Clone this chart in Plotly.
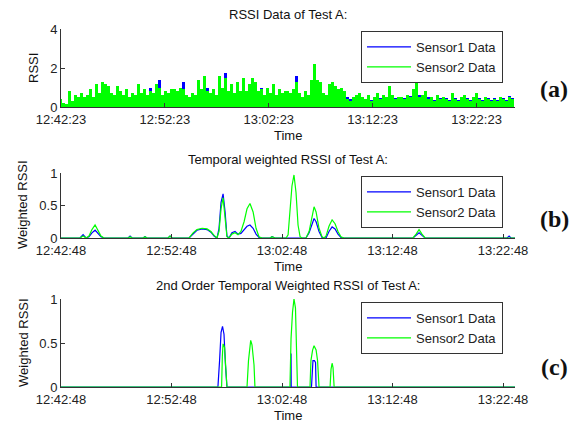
import plotly.graph_objects as go
import pandas as pd

DAY = "2013-01-01 "

# ---------------- Panel (a): raw RSSI ----------------
rssi_start = "12:42:23"
rssi_end = "13:26:05"
rssi_step_ms = 17250
rssi_ticks = ["12:42:23", "12:52:23", "13:02:23", "13:12:23", "13:22:23"]

sensor1_rssi = [
    0.4, 0.15, 0.1, 0.5, 0.2, 0.4, 0.4, 0.5, 0.4, 0.5, 0.7, 0.4, 0.9, 0.5, 1.0, 1.0, 0.9, 0.5, 0.5, 0.8,
    0.6, 0.5, 0.7, 0.4, 0.6, 0.5, 0.9, 0.5, 0.7, 0.5, 0.95, 0.6, 1.0, 1.4, 0.5, 0.7, 0.6, 0.7,
    0.7, 0.6, 0.8, 1.3, 0.5, 0.4, 0.6, 0.5, 1.1, 0.7, 1.2, 0.95, 0.6, 0.8, 0.5, 1.3, 0.8, 1.75, 0.7, 1.0,
    0.6, 1.0, 0.7, 1.2, 0.7, 1.0, 1.3, 1.1, 0.7, 0.95, 0.5, 0.8, 0.6, 1.0, 0.5, 0.7, 0.6, 0.7,
    0.6, 0.6, 0.8, 1.6, 0.6, 0.4, 0.7, 0.5, 1.1, 1.8, 1.1, 1.0, 0.6, 0.5, 1.0, 1.1, 0.9, 0.8, 0.8, 0.7,
    0.5, 0.4, 0.4, 0.5, 0.6, 0.4, 0.35, 0.5, 0.35, 0.4, 0.6, 0.45, 0.5, 0.4, 0.9, 0.5, 0.45, 0.4,
    0.4, 0.45, 0.5, 0.55, 0.7, 1.4, 0.6, 0.5, 0.7, 0.5, 0.4, 0.35, 0.5, 0.45, 0.4, 0.45, 0.35, 0.6, 0.45, 0.35,
    0.4, 0.5, 0.45, 0.35, 0.45, 0.6, 0.45, 0.35, 0.45, 0.45, 0.35, 0.45, 0.35, 0.45, 0.45, 0.35, 0.55, 0.45,
]
sensor2_rssi = [
    0.4, 0.2, 0.15, 0.8, 0.3, 0.6, 0.5, 0.7, 0.5, 0.6, 0.9, 0.5, 1.2, 0.7, 1.3, 1.2, 1.1, 0.7, 0.6, 1.1,
    0.8, 0.6, 0.9, 0.5, 0.7, 0.6, 1.2, 0.7, 0.9, 0.6, 0.8, 0.7, 1.2, 1.0, 0.6, 0.8, 0.7, 0.9,
    0.9, 0.8, 1.0, 0.9, 0.6, 0.5, 0.7, 0.6, 1.4, 0.9, 1.6, 0.8, 0.7, 0.9, 0.6, 1.6, 1.0, 1.5, 0.8, 1.2,
    0.7, 1.3, 0.8, 1.5, 0.8, 1.2, 1.5, 1.3, 0.8, 0.9, 0.6, 1.0, 0.7, 1.2, 0.6, 0.9, 0.7, 0.8,
    0.8, 0.7, 0.9, 1.3, 0.7, 0.5, 0.8, 0.6, 1.4, 2.2, 1.4, 1.3, 0.7, 0.6, 1.2, 1.3, 1.1, 0.9, 1.0, 0.8,
    0.4, 0.3, 0.5, 0.6, 0.7, 0.5, 0.4, 0.6, 0.3, 0.5, 0.7, 0.4, 0.6, 0.5, 1.1, 0.6, 0.4, 0.5,
    0.5, 0.4, 0.6, 0.5, 0.9, 1.7, 0.5, 0.6, 0.8, 0.4, 0.5, 0.3, 0.6, 0.4, 0.5, 0.4, 0.3, 0.7, 0.4, 0.3,
    0.5, 0.6, 0.4, 0.3, 0.5, 0.7, 0.4, 0.3, 0.5, 0.4, 0.3, 0.4, 0.3, 0.5, 0.4, 0.3, 0.5, 0.4,
]

# ---------------- Panel (b): temporal weighted RSSI ----------------
wt_start = "12:42:48"
wt_end = "13:23:53"
wt_ticks = ["12:42:48", "12:52:48", "13:02:48", "13:12:48", "13:22:48"]

tw_times = [
    "12:42:48", "12:44:31", "12:44:48", "12:45:04", "12:45:20", "12:45:36", "12:45:53", "12:46:09",
    "12:46:25", "12:46:42", "12:48:52", "12:49:03", "12:49:14", "12:50:13", "12:50:24", "12:50:35",
    "12:52:29", "12:52:40", "12:52:51", "12:54:23", "12:54:45", "12:55:06", "12:55:34", "12:56:01",
    "12:56:22", "12:56:39", "12:56:55", "12:57:06", "12:57:17", "12:57:28", "12:57:39", "12:57:49",
    "12:58:00", "12:58:16", "12:58:33", "12:58:49", "12:59:05", "12:59:22", "12:59:38", "12:59:54",
    "13:00:11", "13:00:27", "13:00:43", "13:00:59", "13:01:43", "13:01:54", "13:02:10", "13:03:10",
    "13:03:21", "13:03:31", "13:03:42", "13:03:53", "13:04:04", "13:04:15", "13:04:26", "13:04:37",
    "13:04:58", "13:05:15", "13:05:31", "13:05:42", "13:05:53", "13:06:09", "13:06:25", "13:06:36",
    "13:06:47", "13:07:03", "13:07:20", "13:07:36", "13:07:52", "13:08:08", "13:08:25", "13:14:39",
    "13:14:56", "13:15:12", "13:15:28", "13:15:45", "13:23:10", "13:23:21", "13:23:31", "13:23:53",
]
tw_sensor1 = [
    0, 0, 0.05, 0, 0.02, 0.08, 0.12, 0.07,
    0.02, 0, 0, 0.03, 0, 0, 0.02, 0,
    0, 0.03, 0, 0, 0.07, 0.12, 0.14, 0.13,
    0.09, 0.03, 0, 0.15, 0.55, 0.68, 0.4, 0.03,
    0, 0.08, 0.1, 0.06, 0.07, 0.13, 0.18, 0.2,
    0.15, 0.06, 0.01, 0, 0, 0.02, 0, 0,
    0, 0, 0.01, 0, 0, 0, 0, 0,
    0, 0.08, 0.22, 0.3, 0.25, 0.1, 0.01, 0,
    0, 0.1, 0.17, 0.14, 0.06, 0.01, 0, 0,
    0.04, 0.08, 0.04, 0, 0, 0.03, 0, 0,
]
tw_sensor2 = [
    0, 0, 0.03, 0, 0.03, 0.13, 0.2, 0.12,
    0.03, 0, 0, 0.02, 0, 0, 0.02, 0,
    0, 0.03, 0, 0, 0.08, 0.13, 0.15, 0.14,
    0.1, 0.04, 0, 0.1, 0.45, 0.62, 0.35, 0.02,
    0, 0.06, 0.08, 0.05, 0.1, 0.25, 0.45, 0.53,
    0.4, 0.15, 0.02, 0, 0, 0.02, 0, 0,
    0.05, 0.35, 0.8, 0.97, 0.7, 0.2, 0.02, 0,
    0, 0.1, 0.35, 0.48, 0.4, 0.15, 0.02, 0,
    0.03, 0.18, 0.28, 0.22, 0.1, 0.02, 0, 0,
    0.06, 0.13, 0.06, 0, 0, 0, 0, 0,
]

# ---------------- Panel (c): 2nd order temporal weighted RSSI ----------------
so_times_s1 = [
    "12:42:48", "12:57:00", "12:57:09", "12:57:17", "12:57:25", "12:57:33", "12:57:41", "12:57:49",
    "13:03:36", "13:03:37", "13:03:38", "13:05:28", "13:05:31", "13:05:36", "13:05:44", "13:05:50",
    "13:05:53", "13:23:53",
]
so_sensor1 = [0, 0, 0.3, 0.62, 0.69, 0.6, 0.25, 0, 0, 0.38, 0, 0, 0.2, 0.3, 0.3, 0.28, 0, 0]
so_times_s2 = [
    "12:42:48", "12:57:20", "12:57:24", "12:57:28", "12:57:36", "12:57:44", "12:57:49",
    "12:59:38", "12:59:46", "12:59:58", "13:00:05", "13:00:16", "13:00:21",
    "13:03:31", "13:03:37", "13:03:45", "13:03:53", "13:04:01", "13:04:07", "13:04:12",
    "13:05:20", "13:05:25", "13:05:34", "13:05:42", "13:05:53", "13:06:01", "13:06:09",
    "13:07:09", "13:07:14", "13:07:20", "13:07:25", "13:07:31", "13:23:53",
]
so_sensor2 = [
    0, 0, 0.35, 0.49, 0.45, 0.1, 0,
    0, 0.3, 0.53, 0.48, 0.25, 0,
    0, 0.55, 0.85, 1.0, 0.9, 0.4, 0,
    0, 0.3, 0.42, 0.47, 0.42, 0.3, 0,
    0, 0.2, 0.27, 0.22, 0, 0,
]

BLUE = "#0000FF"
GREEN = "#00FF00"
AXC = "#333333"
FONT = "Liberation Sans, Arial, sans-serif"


def d(t):
    return DAY + t


rssi_x = pd.date_range(d(rssi_start), periods=len(sensor2_rssi), freq=f"{rssi_step_ms}ms")

fig = go.Figure()

# Panel (a)
fig.add_trace(go.Bar(x=rssi_x, y=sensor1_rssi, marker_color=BLUE, marker_line_width=0,
                     width=rssi_step_ms, showlegend=False, xaxis="x", yaxis="y"))
fig.add_trace(go.Bar(x=rssi_x, y=sensor2_rssi, marker_color=GREEN, marker_line_width=0,
                     width=rssi_step_ms, showlegend=False, xaxis="x", yaxis="y"))
fig.add_trace(go.Scatter(x=[None], y=[None], mode="lines", line=dict(color=BLUE, width=1.2),
                         name="Sensor1 Data", legend="legend", xaxis="x", yaxis="y"))
fig.add_trace(go.Scatter(x=[None], y=[None], mode="lines", line=dict(color=GREEN, width=1.2),
                         name="Sensor2 Data", legend="legend", xaxis="x", yaxis="y"))

# Panel (b)
fig.add_trace(go.Scatter(x=[d(t) for t in tw_times], y=tw_sensor1, mode="lines",
                         line=dict(color=BLUE, width=1.2), name="Sensor1 Data",
                         legend="legend2", xaxis="x2", yaxis="y2"))
fig.add_trace(go.Scatter(x=[d(t) for t in tw_times], y=tw_sensor2, mode="lines",
                         line=dict(color=GREEN, width=1.2), name="Sensor2 Data",
                         legend="legend2", xaxis="x2", yaxis="y2"))

# Panel (c)
fig.add_trace(go.Scatter(x=[d(t) for t in so_times_s1], y=so_sensor1, mode="lines",
                         line=dict(color=BLUE, width=1.2), name="Sensor1 Data",
                         legend="legend3", xaxis="x3", yaxis="y3"))
fig.add_trace(go.Scatter(x=[d(t) for t in so_times_s2], y=so_sensor2, mode="lines",
                         line=dict(color=GREEN, width=1.2), name="Sensor2 Data",
                         legend="legend3", xaxis="x3", yaxis="y3"))

W, H = 579, 423
X0, X1 = 61 / W, 515 / W


def py(px):
    return 1 - px / H


def xaxis(anchor, rng, ticks):
    return dict(domain=[X0, X1], anchor=anchor, type="date", automargin=False,
                range=[d(rng[0]), d(rng[1])],
                tickvals=[d(t) for t in ticks], ticktext=ticks,
                showline=True, linecolor=AXC, linewidth=1, mirror=False,
                ticks="inside", ticklen=4, tickcolor=AXC, showgrid=False, zeroline=False,
                tickfont=dict(family=FONT, size=13, color="#222"))


def yaxis(anchor, dom, rng, ticks, texts):
    return dict(domain=dom, anchor=anchor, range=rng, tickvals=ticks, ticktext=texts,
                automargin=False,
                showline=True, linecolor=AXC, linewidth=1,
                ticks="inside", ticklen=4, tickcolor=AXC, showgrid=False, zeroline=False,
                tickfont=dict(family=FONT, size=13, color="#222"))


legend_common = dict(bgcolor="white", bordercolor=AXC, borderwidth=1,
                     font=dict(family=FONT, size=13, color="#222"),
                     xanchor="left", yanchor="top", x=361 / W, tracegroupgap=0,
                     itemwidth=44)

fig.update_layout(
    template="none",
    width=W, height=H,
    margin=dict(l=0, r=0, t=0, b=0, autoexpand=False),
    paper_bgcolor="white", plot_bgcolor="white",
    barmode="overlay", bargap=0,
    xaxis=xaxis("y", (rssi_start, rssi_end), rssi_ticks),
    yaxis=yaxis("x", [py(107), py(29)], [0, 4], [0, 2, 4], ["0", "2", "4"]),
    xaxis2=xaxis("y2", (wt_start, wt_end), wt_ticks),
    yaxis2=yaxis("x2", [py(238), py(173)], [0, 1], [0, 0.5, 1], ["0", "0.5", "1"]),
    xaxis3=xaxis("y3", (wt_start, wt_end), wt_ticks),
    yaxis3=yaxis("x3", [py(387), py(299)], [0, 1], [0, 0.5, 1], ["0", "0.5", "1"]),
    legend=dict(legend_common, y=py(31)),
    legend2=dict(legend_common, y=py(176)),
    legend3=dict(legend_common, y=py(302)),
)

anns = []
xc = (X0 + X1) / 2
for text, yc in [("RSSI Data of Test A:", 14), ("Temporal weighted RSSI of Test A:", 159),
                 ("2nd Order Temporal Weighted RSSI of Test A:", 285),
                 ("Time", 135), ("Time", 266), ("Time", 415)]:
    anns.append(dict(text=text, x=xc, y=py(yc), xref="paper", yref="paper",
                     xanchor="center", yanchor="middle", showarrow=False,
                     font=dict(family=FONT, size=13, color="#111")))
for text, xcp, yc in [("RSSI", 33, 68), ("Weighted RSSI", 23, 205), ("Weighted RSSI", 23, 343)]:
    anns.append(dict(text=text, x=xcp / W, y=py(yc), xref="paper", yref="paper",
                     xanchor="center", yanchor="middle", showarrow=False, textangle=-90,
                     font=dict(family=FONT, size=13, color="#111")))
for text, yc in [("(a)", 89), ("(b)", 219), ("(c)", 367)]:
    anns.append(dict(text="<b>" + text + "</b>", x=554 / W, y=py(yc), xref="paper", yref="paper",
                     xanchor="center", yanchor="middle", showarrow=False,
                     font=dict(family="Liberation Serif, Times New Roman, serif", size=24,
                               color="#111")))
fig.update_layout(annotations=anns)

fig.write_html("out.html", config={"displayModeBar": False},
               post_script="document.body.style.margin='0px';document.body.style.overflow='hidden';")
